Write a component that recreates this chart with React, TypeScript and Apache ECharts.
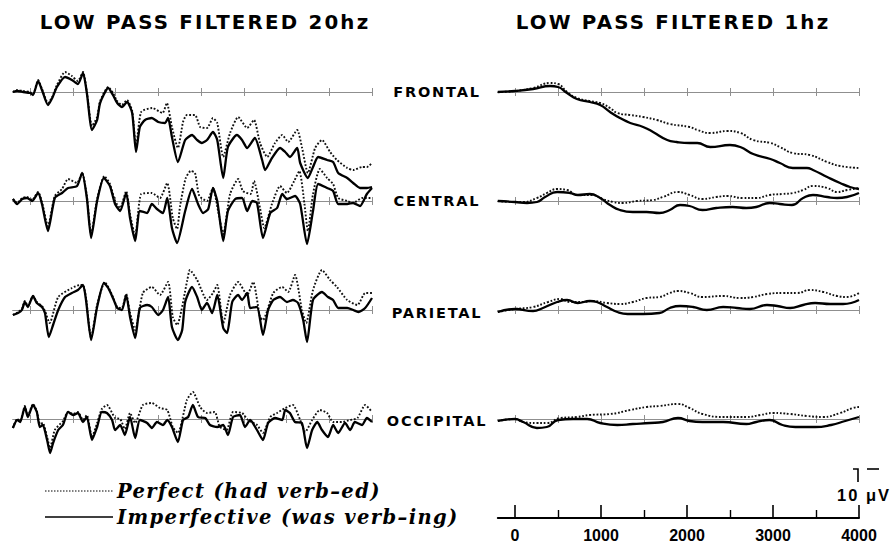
import React, { useEffect, useRef } from "react";
import * as echarts from "echarts";

// ---- texts / ticks ----
const TITLES = ["LOW PASS FILTERED 20hz", "LOW PASS FILTERED 1hz"];
const REGIONS = ["FRONTAL", "CENTRAL", "PARIETAL", "OCCIPITAL"];
const LEGEND = ["Perfect (had verb–ed)", "Imperfective (was verb–ing)"];
const BASE_TICKS = [0, 500, 1000, 1500, 2000, 2500, 3000, 3500, 4000];
const MAJOR_TICKS = [0, 1000, 2000, 3000, 4000];
const MINOR_TICKS = [500, 1500, 2500, 3500];
const CAL_LABEL = "10 μV";

// ---- data: [ms, µV] (negative up) ----
// 20 Hz low-pass
const f20Perf = [[-200,0],[-150,-0.4],[-80,-0.2],[0,0],[35,0.4],[95,-2.4],[140,-0.6],[210,2.2],[260,1.0],[315,-1.4],[410,-4.0],[490,-3.2],[560,-2.2],[620,-4.0],[665,0],[725,6.8],[785,5.0],[820,1.8],[915,-1.0],[970,0.2],[1020,1.8],[1075,2.6],[1135,1.6],[1195,3.8],[1240,11.0],[1300,4.0],[1430,3.2],[1550,4.2],[1600,2.2],[1660,7.0],[1730,11.2],[1790,6.0],[1835,4.6],[1930,4.6],[1990,7.0],[2070,7.2],[2140,5.2],[2190,6.2],[2260,13.0],[2340,8.2],[2435,5.0],[2540,7.2],[2620,5.6],[2690,10.2],[2775,13.0],[2865,10.2],[2950,8.6],[3020,10.0],[3125,7.6],[3180,11.0],[3250,16.2],[3335,11.2],[3415,9.6],[3510,12.0],[3590,13.6],[3710,15.2],[3780,15.6],[3885,15.0],[3940,15.0],[4000,14.2]];
const f20Imp = [[-200,0],[-150,-0.2],[-80,0],[0,0.2],[35,0.6],[95,-2.2],[140,-0.4],[210,2.6],[260,1.2],[315,-1.0],[410,-3.0],[490,-2.4],[560,-1.6],[620,-3.8],[665,0.2],[725,7.6],[785,5.6],[820,2.2],[915,-0.8],[970,0.6],[1020,2.2],[1075,3.0],[1135,2.0],[1195,4.2],[1240,12.0],[1285,7.0],[1345,5.6],[1425,5.2],[1500,6.0],[1580,6.2],[1615,5.2],[1660,9.0],[1730,14.0],[1815,9.6],[1895,8.6],[1955,9.6],[2010,10.2],[2070,9.6],[2140,8.0],[2190,9.6],[2260,17.2],[2315,11.0],[2420,8.6],[2480,9.6],[2540,11.2],[2630,9.2],[2715,13.6],[2750,15.6],[2830,13.2],[2925,11.2],[2985,12.0],[3040,13.0],[3125,11.2],[3160,14.2],[3250,17.2],[3310,15.0],[3370,13.0],[3475,13.6],[3545,14.0],[3605,16.2],[3710,17.2],[3780,18.2],[3860,19.2],[3940,19.2],[4000,19.0]];
const c20Perf = [[-200,-0.4],[-150,0.4],[-90,-0.6],[-35,-0.8],[25,-0.2],[95,-1.8],[140,0.2],[210,5.0],[290,-1.0],[375,-2.4],[445,-4.4],[550,-3.6],[610,-5.6],[665,-1.0],[715,6.6],[785,-0.4],[870,-5.0],[935,-3.4],[995,0],[1055,1.4],[1125,-2.0],[1170,2.6],[1230,7.0],[1300,-1.4],[1425,-1.6],[1520,-0.6],[1605,-3.6],[1670,3.4],[1720,5.6],[1755,1.0],[1820,-4.5],[1880,-6.0],[1930,-5.6],[1980,-1.0],[2070,0],[2140,-2.6],[2200,2.0],[2260,6.6],[2340,-1.4],[2435,-4.4],[2490,-2.0],[2580,-1.4],[2620,-4.0],[2690,1.4],[2740,5.4],[2830,0.6],[2925,-3.0],[3005,-1.6],[3090,-4.0],[3150,-6.0],[3210,0.6],[3250,6.0],[3310,-1.4],[3390,-6.4],[3475,-4.6],[3545,-3.4],[3605,-0.6],[3710,0],[3780,0.4],[3885,-0.6],[4000,-0.6]];
const c20Imp = [[-200,-0.4],[-150,0.6],[-90,-0.4],[-35,-0.6],[25,0],[95,-1.6],[140,0.6],[210,6.0],[290,-0.6],[375,-1.6],[445,-2.6],[550,-3.0],[610,-5.6],[665,-0.6],[715,7.4],[785,0],[865,-4.6],[935,-3.0],[995,0.6],[1055,2.0],[1125,-1.6],[1170,3.4],[1230,8.0],[1285,2.0],[1370,2.4],[1425,0.6],[1485,1.6],[1555,2.4],[1605,-0.6],[1660,5.4],[1720,8.4],[1815,2.0],[1895,-2.4],[1965,0.6],[2025,2.4],[2085,1.6],[2140,-2.6],[2190,0],[2260,8.0],[2315,2.0],[2400,-0.4],[2480,-0.6],[2540,2.0],[2600,0],[2655,0.4],[2725,7.4],[2810,2.4],[2890,1.4],[2950,-1.4],[3005,-0.4],[3100,-1.0],[3160,0.6],[3240,8.6],[3310,2.0],[3370,-3.4],[3475,-2.6],[3545,-2.0],[3605,0.6],[3710,0.6],[3780,0.4],[3860,1.0],[3940,-1.4],[4000,-2.6]];
const p20Perf = [[-200,1.0],[-140,0.4],[-95,-0.2],[-60,-1.8],[-25,-0.8],[35,-2.8],[80,-1.6],[140,-0.8],[175,0.2],[230,2.6],[330,-2.6],[490,-4.4],[580,-5.0],[620,-5.0],[655,-2.4],[715,5.6],[785,-1.0],[875,-5.6],[915,-4.6],[970,-2.6],[1020,-0.6],[1075,-0.4],[1125,-3.2],[1170,0.6],[1230,4.0],[1320,-3.4],[1425,-4.6],[1520,-3.0],[1615,-5.6],[1670,1.4],[1720,3.0],[1840,-6.0],[1870,-8.0],[1955,-6.0],[2070,-2.0],[2140,-3.4],[2190,-5.0],[2260,2.6],[2340,-3.0],[2435,-5.6],[2540,-3.0],[2610,-5.6],[2690,1.4],[2725,2.0],[2845,-3.4],[2950,-4.6],[3020,-3.6],[3100,-7.0],[3180,0],[3230,2.6],[3310,-4.0],[3415,-8.0],[3510,-6.0],[3590,-4.6],[3710,-2.0],[3830,-1.0],[3920,-3.4],[4000,-3.4]];
const p20Imp = [[-200,1.0],[-140,0.6],[-95,0],[-60,-1.6],[-25,-0.6],[35,-2.8],[80,-1.4],[140,-0.6],[175,0.6],[220,5.4],[270,3.0],[330,0],[410,-2.6],[490,-3.4],[560,-4.0],[620,-5.0],[655,-2.0],[715,6.0],[785,-0.6],[865,-5.4],[915,-4.4],[970,-2.4],[1020,-0.4],[1075,0],[1125,-3.0],[1170,1.4],[1230,5.6],[1285,-0.4],[1370,-1.0],[1425,-0.6],[1500,1.0],[1555,0],[1615,-2.6],[1660,3.4],[1730,6.0],[1780,4.0],[1815,-1.6],[1895,-4.6],[1955,-2.6],[2010,0],[2070,-1.4],[2130,0.6],[2190,-3.0],[2260,3.6],[2305,4.6],[2365,-1.6],[2435,-3.0],[2480,-2.0],[2540,-3.4],[2575,-0.4],[2655,-0.6],[2725,5.0],[2785,0],[2845,-2.0],[2925,-2.6],[3005,-1.6],[3075,-2.0],[3135,-1.4],[3195,2.0],[3240,6.4],[3310,-2.0],[3415,-3.6],[3485,-2.6],[3545,-2.0],[3605,-0.4],[3710,-0.4],[3780,0],[3840,0.4],[3920,-0.4],[4000,-2.4]];
const o20Perf = [[-200,1.8],[-150,0],[-115,0.4],[-60,-2.6],[-25,-0.6],[35,-3.0],[80,-1.6],[115,1.0],[150,0.8],[200,3.6],[235,5.8],[290,2.2],[385,0.4],[445,-1.4],[505,-1.0],[560,-1.4],[620,0.2],[665,-0.8],[725,3.6],[785,0.8],[840,-2.0],[900,-2.8],[995,-0.2],[1055,0],[1110,2.0],[1170,-1.2],[1230,0.8],[1320,-2.8],[1425,-3.2],[1520,-2.2],[1605,-1.8],[1670,1.6],[1730,2.8],[1835,-3.8],[1905,-5.4],[1990,-2.4],[2070,-1.2],[2160,-1.4],[2220,1.6],[2300,2.2],[2375,-1.4],[2480,-1.2],[2550,0.2],[2655,1.2],[2725,2.8],[2810,-0.4],[2890,-1.2],[2985,-2.2],[3075,-2.8],[3160,0.2],[3220,2.6],[3300,0.2],[3390,-1.8],[3475,-1.2],[3545,0.6],[3650,0.6],[3745,0.2],[3830,-0.2],[3920,-2.8],[4000,-1.4]];
const o20Imp = [[-200,1.8],[-150,0.2],[-115,0.6],[-60,-2.4],[-25,-0.4],[35,-2.8],[80,-1.4],[115,1.6],[150,1.2],[200,4.2],[235,6.8],[270,4.8],[330,2.2],[385,1.2],[445,-1.4],[505,-0.8],[560,-1.2],[620,0.6],[665,-0.4],[725,4.2],[785,1.6],[840,-1.4],[900,-1.2],[960,0.2],[995,2.2],[1055,1.2],[1110,3.2],[1170,-0.4],[1230,3.8],[1285,0.2],[1370,0.8],[1425,1.8],[1485,0.6],[1555,1.2],[1605,0.2],[1660,1.6],[1730,4.6],[1790,0.2],[1850,-0.4],[1905,-2.8],[1965,-0.4],[2050,-0.2],[2105,1.2],[2190,1.6],[2260,1.2],[2315,3.2],[2375,-0.4],[2455,-0.8],[2515,1.6],[2575,0.2],[2655,2.2],[2725,4.2],[2785,0.8],[2865,-0.2],[2950,0.2],[2985,-1.8],[3040,-1.2],[3100,0.6],[3180,0.8],[3240,5.8],[3300,2.2],[3360,0.6],[3415,2.2],[3485,3.6],[3545,1.2],[3605,2.8],[3685,0.8],[3745,2.2],[3800,0.6],[3885,1.2],[3940,-0.2],[4000,0.6]];
// 1 Hz low-pass
const f1Perf = [[-200,0],[0,-0.2],[210,-0.8],[410,-1.8],[500,-1.6],[605,0],[720,1.2],[870,1.8],[990,2.2],[1105,3.2],[1190,4.2],[1340,4.6],[1490,5.0],[1650,5.6],[1800,6.4],[2030,7.0],[2120,7.6],[2270,8.2],[2470,7.8],[2620,8.2],[2770,9.6],[2970,10.2],[3080,11.0],[3230,12.2],[3430,12.6],[3630,14.0],[3780,14.8],[4000,15.2]];
const f1Imp = [[-200,0],[0,-0.2],[210,-0.6],[410,-1.2],[500,-1.0],[605,0.2],[720,1.4],[870,2.0],[990,2.6],[1105,4.0],[1220,5.2],[1340,6.2],[1490,7.0],[1605,8.0],[1770,9.6],[1880,10.0],[2030,10.2],[2120,10.2],[2270,11.0],[2500,10.6],[2620,11.0],[2770,12.4],[2970,13.4],[3080,14.2],[3230,15.2],[3395,15.2],[3465,15.6],[3630,17.0],[3780,18.2],[3895,19.0],[4000,19.4]];
const c1Perf = [[-200,0],[0,0.2],[95,0.2],[255,-0.6],[370,-1.6],[490,-2.4],[605,-2.2],[730,-1.2],[900,-1.2],[1020,-0.4],[1140,0.2],[1250,0.4],[1420,0],[1605,-0.2],[1720,-0.8],[1895,-1.8],[2030,-1.2],[2180,-0.4],[2340,-0.8],[2470,-1.0],[2650,-0.6],[2805,-0.6],[2960,-1.2],[3110,-1.4],[3230,-1.6],[3350,-2.2],[3465,-3.0],[3630,-2.6],[3745,-1.8],[3860,-2.2],[4000,-2.6]];
const c1Imp = [[-200,0],[0,0.2],[140,0.4],[255,0.2],[350,-0.8],[490,-1.8],[640,-1.6],[730,-1.2],[870,-1.4],[990,-0.6],[1105,0.8],[1220,1.8],[1370,2.2],[1530,2.2],[1680,2.4],[1800,1.8],[1920,0.8],[2030,1.0],[2180,1.8],[2340,1.4],[2530,1.2],[2690,1.4],[2805,1.2],[2960,0.4],[3080,0.6],[3220,0.8],[3350,-0.6],[3465,-1.2],[3630,-0.8],[3745,-0.6],[3860,-0.8],[4000,-1.6]];
const p1Perf = [[-200,0.4],[0,-0.2],[210,-0.6],[385,-1.6],[525,-2.2],[640,-1.6],[790,-1.6],[905,-1.8],[1070,-1.4],[1220,-1.2],[1370,-1.6],[1530,-2.4],[1680,-2.6],[1800,-3.4],[1895,-3.8],[2030,-3.4],[2180,-2.6],[2420,-2.8],[2620,-2.4],[2770,-2.6],[2930,-3.2],[3120,-3.4],[3280,-3.4],[3430,-4.0],[3585,-3.6],[3745,-2.8],[3860,-2.6],[4000,-3.4]];
const p1Imp = [[-200,0.4],[0,-0.2],[210,0.2],[325,-0.4],[490,-1.6],[605,-2.0],[730,-1.4],[870,-1.8],[950,-1.6],[1070,-0.6],[1190,0.4],[1310,0.8],[1490,0.8],[1680,0.6],[1800,-0.4],[1920,-0.8],[2070,-0.6],[2230,0],[2420,-0.6],[2580,-0.4],[2730,-0.2],[2930,-1.0],[3050,-0.8],[3200,-0.4],[3350,-1.0],[3490,-1.4],[3665,-1.2],[3815,-1.2],[4000,-2.0]];
const o1Perf = [[-200,0.4],[0,0],[95,0.6],[255,0.8],[370,0.8],[525,-0.2],[720,-0.4],[870,-0.8],[1105,-1.0],[1340,-1.8],[1530,-2.4],[1680,-2.6],[1895,-3.0],[2030,-2.2],[2180,-1.0],[2420,-0.4],[2690,-0.4],[2850,-0.8],[3000,-1.2],[3200,-1.0],[3395,-0.6],[3580,-0.4],[3780,-1.2],[3930,-2.2],[4000,-2.4]];
const o1Imp = [[-200,0.4],[0,0],[95,0.6],[255,1.8],[370,1.6],[500,0.2],[675,0],[840,0],[990,0.8],[1190,1.2],[1370,1.0],[1570,0.8],[1720,0.6],[1895,-0.2],[2030,0.4],[2180,0.6],[2420,0.6],[2690,1.0],[2805,0.6],[2960,0.2],[3110,1.2],[3260,1.6],[3490,1.6],[3675,1.2],[3840,0.4],[4000,-0.4]];

const PANELS = [
  [[f20Perf, f20Imp], [c20Perf, c20Imp], [p20Perf, p20Imp], [o20Perf, o20Imp]],
  [[f1Perf, f1Imp], [c1Perf, c1Imp], [p1Perf, p1Imp], [o1Perf, o1Imp]],
];

// ---- layout ----
const BASES = [92, 201, 310, 419];
const COLS = [
  { left: 12.9, width: 359.1 },
  { left: 497.8, width: 361.2 },
];
const PX_PER_UV = 5;
const Y_MIN = -12;
const Y_MAX = 24;

const CSS = `
#root text[style*="19.8px"] { letter-spacing: 2.2px; }
#root text[style*="14.5px"] { letter-spacing: 1.8px; }
#root text[style*="19.5px"] { letter-spacing: 1.4px; }
#root text[style*="16.5px"] { letter-spacing: 2px; }
`;

export default function App() {
  const ref = useRef<HTMLDivElement>(null);
  useEffect(() => {
    if (!ref.current) return;
    const chart = echarts.init(ref.current, null, { renderer: "svg" });
    const grids: any[] = [];
    const xAxes: any[] = [];
    const yAxes: any[] = [];
    const series: any[] = [];
    const gray = "#8f8f8f";
    const addTickGrid = (left: number, width: number, top: number, pos: string) => {
      const gi = grids.length;
      grids.push({ left, width, top, height: 10, containLabel: false });
      xAxes.push({
        gridIndex: gi,
        type: "value",
        min: -200,
        max: 4000,
        position: pos,
        axisLine: { show: true, onZero: false, lineStyle: { color: gray, width: 1 } },
        axisTick: { show: true, customValues: BASE_TICKS, length: 4, inside: false, lineStyle: { color: gray, width: 1 } },
        axisLabel: { show: false },
        splitLine: { show: false },
      });
      yAxes.push({ gridIndex: gi, type: "value", min: 0, max: 1, show: false });
    };
    COLS.forEach((col, c) => {
      BASES.forEach((base, r) => {
        // baseline with ticks crossing it
        addTickGrid(col.left, col.width, base, "top");
        addTickGrid(col.left, col.width, base - 10, "bottom");
        const gi = grids.length;
        grids.push({
          left: col.left,
          width: col.width,
          top: base + Y_MIN * PX_PER_UV,
          height: (Y_MAX - Y_MIN) * PX_PER_UV,
          containLabel: false,
        });
        xAxes.push({
          gridIndex: gi,
          type: "value",
          min: -200,
          max: 4000,
          show: false,
          splitLine: { show: false },
        });
        yAxes.push({
          gridIndex: gi,
          type: "value",
          min: Y_MIN,
          max: Y_MAX,
          inverse: true,
          show: false,
          splitLine: { show: false },
        });
        const xi = xAxes.length - 1;
        const yi = yAxes.length - 1;
        const [perf, imp] = PANELS[c][r];
        const smooth = c === 1 ? 0.5 : 0.2;
        series.push({
          type: "line",
          name: LEGEND[0],
          xAxisIndex: xi,
          yAxisIndex: yi,
          data: perf,
          showSymbol: false,
          symbol: "none",
          smooth,
          lineStyle: { color: "#111", width: 1.9, type: [1.8, 1.8] },
          z: 3,
        });
        series.push({
          type: "line",
          name: LEGEND[1],
          xAxisIndex: xi,
          yAxisIndex: yi,
          data: imp,
          showSymbol: false,
          symbol: "none",
          smooth,
          lineStyle: { color: "#000", width: 2.3 },
          z: 4,
        });
      });
    });
    // bottom time axis (right column)
    const bgi = grids.length;
    grids.push({ left: COLS[1].left, width: COLS[1].width, top: 470, height: 48, containLabel: false });
    xAxes.push({
      gridIndex: bgi,
      type: "value",
      min: -200,
      max: 4000,
      position: "bottom",
      axisLine: { show: true, onZero: false, lineStyle: { color: "#000", width: 2 } },
      axisTick: { show: true, customValues: MAJOR_TICKS, inside: true, length: 13, lineStyle: { color: "#000", width: 1.6 } },
      axisLabel: {
        show: true,
        customValues: MAJOR_TICKS,
        formatter: (v: number) => String(v),
        color: "#000",
        fontSize: 16,
        fontWeight: "bold",
        fontFamily: "Liberation Sans",
        margin: 9,
      },
      splitLine: { show: false },
    });
    xAxes.push({
      gridIndex: bgi,
      type: "value",
      min: -200,
      max: 4000,
      position: "bottom",
      axisLine: { show: false, onZero: false },
      axisTick: { show: true, customValues: MINOR_TICKS, inside: true, length: 8, lineStyle: { color: "#000", width: 1.4 } },
      axisLabel: { show: false },
      splitLine: { show: false },
    });
    yAxes.push({ gridIndex: bgi, type: "value", min: 0, max: 1, show: false });

    const graphic: any[] = [];
    const titleCenters = [205, 673];
    TITLES.forEach((t, i) => {
      graphic.push({
        type: "text",
        x: titleCenters[i],
        y: 22,
        style: {
          text: t,
          fill: "#000",
          font: "bold 19.8px 'DejaVu Sans'",
          align: "center",
          verticalAlign: "middle",
        },
      });
    });
    const labelY = [92, 201, 313, 421];
    REGIONS.forEach((t, i) => {
      graphic.push({
        type: "text",
        x: 437,
        y: labelY[i],
        style: {
          text: t,
          fill: "#000",
          font: "bold 14.5px 'DejaVu Sans'",
          align: "center",
          verticalAlign: "middle",
        },
      });
    });
    // legend
    graphic.push({
      type: "line",
      shape: { x1: 45, y1: 491, x2: 113, y2: 491 },
      style: { stroke: "#000", lineWidth: 1, lineDash: [1.5, 1.5] },
    });
    graphic.push({
      type: "line",
      shape: { x1: 45, y1: 517, x2: 113, y2: 517 },
      style: { stroke: "#000", lineWidth: 1.6 },
    });
    [491, 517].forEach((y, i) => {
      graphic.push({
        type: "text",
        x: 117,
        y,
        style: {
          text: LEGEND[i],
          fill: "#000",
          font: "italic bold 19.5px 'DejaVu Serif'",
          align: "left",
          verticalAlign: "middle",
        },
      });
    });
    // calibration bar (10 µV, negative up)
    graphic.push({
      type: "polyline",
      shape: { points: [[853, 469], [858, 469], [858, 482]] },
      style: { stroke: "#000", lineWidth: 1.6, fill: null },
    });
    graphic.push({
      type: "line",
      shape: { x1: 867, y1: 469, x2: 879, y2: 469 },
      style: { stroke: "#000", lineWidth: 1.6 },
    });
    graphic.push({
      type: "text",
      x: 837,
      y: 495,
      style: {
        text: CAL_LABEL,
        fill: "#000",
        font: "bold 16.5px 'Liberation Sans'",
        align: "left",
        verticalAlign: "middle",
      },
    });

    chart.setOption({
      animation: false,
      backgroundColor: "#fff",
      grid: grids,
      xAxis: xAxes,
      yAxis: yAxes,
      series,
      graphic,
    });
    return () => chart.dispose();
  }, []);
  return (
    <>
      <style>{CSS}</style>
      <div
        ref={ref}
        style={{ position: "fixed", left: 0, top: 0, width: 891, height: 550 }}
      />
    </>
  );
}
